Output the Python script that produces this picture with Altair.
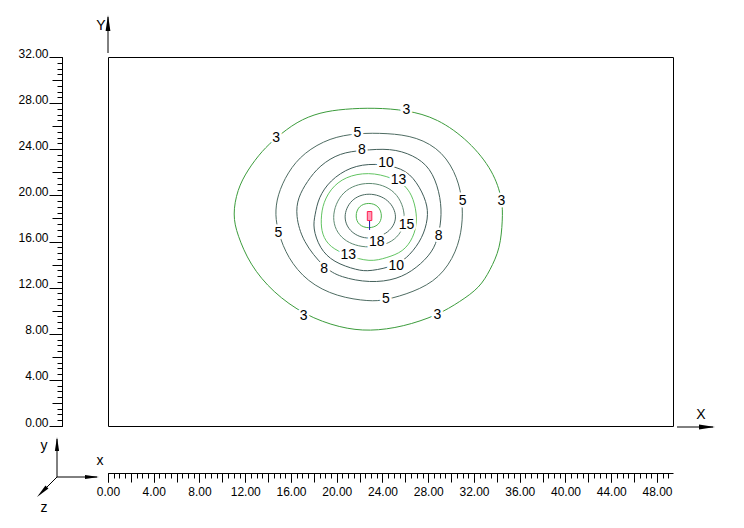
import altair as alt
import pandas as pd

# ---------------- data ----------------
levels = ["3", "5", "8", "10", "13", "15", "18", "20"]
level_colors = ["#3c9c3c", "#4e6c62", "#43605a", "#3f5c58", "#62c462", "#5f8a72", "#4a6a60", "#4cb44c"]

c3_x = [10.9, 11.3, 12.2, 13.5, 14.7, 16.5, 18.5, 20.7, 23.3, 26.1, 28.8, 31.6, 33.7, 34.5, 34.5, 34.3, 33.4, 32.5, 30.8, 28.8, 25.8, 22.9, 20.3, 17.2, 14.4, 12.4, 11.3]
c3_y = [18.3, 20.5, 22.2, 23.9, 25.0, 26.4, 27.2, 27.5, 27.6, 27.4, 26.7, 24.7, 22.1, 19.6, 17.9, 15.4, 13.5, 12.0, 10.8, 9.6, 8.6, 8.2, 8.5, 9.6, 11.6, 14.0, 16.6]
c5_x = [14.6, 14.8, 15.7, 17.1, 19.4, 21.8, 24.4, 27.0, 29.3, 30.6, 31.0, 31.0, 30.5, 29.0, 26.7, 24.2, 22.9, 20.0, 17.4, 15.7, 14.9]
c5_y = [18.3, 20.0, 22.0, 23.7, 25.0, 25.4, 25.4, 25.1, 23.8, 21.5, 19.4, 17.4, 15.1, 12.8, 11.6, 10.9, 10.8, 11.2, 12.5, 14.6, 16.7]
c8_x = [16.4, 16.6, 17.4, 18.5, 20.3, 22.2, 24.7, 26.7, 28.2, 29.0, 29.2, 28.9, 28.4, 27.0, 25.3, 22.9, 20.3, 18.9, 17.0]
c8_y = [18.3, 19.8, 21.2, 22.6, 23.7, 23.9, 24.1, 23.5, 22.4, 20.3, 18.3, 16.5, 15.1, 13.7, 12.7, 12.4, 12.9, 13.7, 16.0]
c10_x = [18.1, 18.4, 19.4, 21.2, 23.3, 25.8, 27.0, 27.9, 28.0, 27.5, 26.4, 25.2, 22.9, 21.8, 19.7, 18.5, 17.9]
c10_y = [18.3, 19.8, 21.3, 22.5, 22.8, 22.4, 21.2, 19.4, 18.0, 16.3, 14.8, 13.9, 13.4, 13.5, 14.2, 15.4, 17.2]
c13_x = [18.6, 18.8, 19.7, 21.2, 23.3, 25.4, 26.1, 26.7, 27.1, 26.7, 25.8, 24.4, 22.9, 20.9, 19.4, 18.7]
c13_y = [17.9, 19.4, 20.9, 21.8, 22.0, 21.3, 20.7, 19.8, 17.9, 16.3, 15.1, 14.6, 14.2, 14.8, 15.5, 16.6]
c15_x = [19.4, 20.4, 22.8, 25.3, 26.2, 25.3, 22.8, 20.4]
c15_y = [18.0, 20.5, 21.3, 20.5, 18.0, 16.0, 15.3, 16.0]
c18_x = [20.5, 21.2, 22.8, 24.6, 25.4, 24.6, 22.8, 21.2]
c18_y = [18.1, 19.7, 20.3, 19.7, 18.1, 16.7, 16.1, 16.7]
c20_x = [21.6, 21.9, 22.8, 23.7, 24.0, 23.7, 22.8, 21.9]
c20_y = [18.2, 19.1, 19.4, 19.1, 18.2, 17.4, 17.1, 17.4]

label_text = ["3", "3", "3", "3", "3", "5", "5", "5", "5", "8", "8", "8", "10", "10", "13", "13", "15", "18"]
label_x = [26.1, 14.7, 34.4, 17.1, 28.8, 21.8, 31.0, 14.9, 24.3, 22.2, 28.9, 18.9, 24.3, 25.2, 25.4, 21.0, 26.1, 23.5]
label_y = [27.4, 25.0, 19.5, 9.5, 9.6, 25.4, 19.5, 16.7, 11.0, 23.9, 16.5, 13.6, 22.8, 13.9, 21.3, 14.8, 17.4, 16.0]

well_x = [22.87]
well_y = [18.21]
well_y2 = [17.0]

x_major = [0, 4, 8, 12, 16, 20, 24, 28, 32, 36, 40, 44, 48]
y_major = [0, 4, 8, 12, 16, 20, 24, 28, 32]
x_mid = [v * 2 for v in range(25)]
y_mid = [v * 2 for v in range(17)]
x_minor = [v * 0.5 for v in range(99)]
y_minor = [v * 0.5 for v in range(65)]

X_MAX = 49.4
Y_MAX = 32

# ---------------- tables ----------------
series = {
    "3": (c3_x, c3_y), "5": (c5_x, c5_y), "8": (c8_x, c8_y), "10": (c10_x, c10_y),
    "13": (c13_x, c13_y), "15": (c15_x, c15_y), "18": (c18_x, c18_y), "20": (c20_x, c20_y),
}
rows = []
for lev, (xs_, ys_) in series.items():
    for i, (a, b) in enumerate(zip(xs_, ys_)):
        rows.append({"level": lev, "x": a, "y": b, "i": i})
df = pd.DataFrame(rows)
labels_df = pd.DataFrame({"t": label_text, "x": label_x, "y": label_y})
well_df = pd.DataFrame({"x": well_x, "y": well_y, "y2": well_y2})
dummy = pd.DataFrame({"x": [0.0], "y": [0.0]})

xs = alt.Scale(domain=[0, X_MAX], nice=False, zero=False)
ys = alt.Scale(domain=[0, Y_MAX], nice=False, zero=False)
FONT = "Liberation Sans"

lines = alt.Chart(df).mark_line(interpolate="basis-closed", strokeWidth=1).encode(
    x=alt.X("x:Q", scale=xs, axis=None),
    y=alt.Y("y:Q", scale=ys, axis=None),
    color=alt.Color("level:N", scale=alt.Scale(domain=levels, range=level_colors), legend=None),
    detail="level:N",
    order="i:Q",
)

halo = alt.Chart(labels_df).mark_text(font=FONT, fontSize=14, fill="white", stroke="white", strokeWidth=5).encode(
    x=alt.X("x:Q", scale=xs, axis=None), y=alt.Y("y:Q", scale=ys, axis=None), text="t:N")
texts = alt.Chart(labels_df).mark_text(font=FONT, fontSize=14, color="black").encode(
    x=alt.X("x:Q", scale=xs, axis=None), y=alt.Y("y:Q", scale=ys, axis=None), text="t:N")

well_line = alt.Chart(well_df).mark_rule(color="#1a1aa8", strokeWidth=1).encode(
    x=alt.X("x:Q", scale=xs, axis=None), y=alt.Y("y:Q", scale=ys, axis=None), y2="y2:Q")
well_box = alt.Chart(well_df).mark_point(
    shape="M-0.5,-1H0.5V1H-0.5Z", size=81, filled=True, fill="#ff9cb8", stroke="#ff2050",
    strokeWidth=1, opacity=1).encode(
    x=alt.X("x:Q", scale=xs, axis=None), y=alt.Y("y:Q", scale=ys, axis=None))


def ruler(xv, yv, xtick, ytick, labels):
    common = dict(domain=False, grid=False, title=None, ticks=True, tickColor="black", tickWidth=1)
    if labels:
        ax_x = alt.Axis(orient="bottom", values=xv, format=".2f", tickSize=xtick, offset=47,
                        labelFont=FONT, labelFontSize=12, labelColor="black", labelPadding=4,
                        labelFlush=False, labelOverlap=False, domain=True, domainColor="black",
                        grid=False, title=None, tickColor="black")
        ax_y = alt.Axis(orient="left", values=yv, format=".2f", tickSize=ytick, offset=46,
                        labelFont=FONT, labelFontSize=12, labelColor="black", labelPadding=1,
                        labelBaseline="alphabetic", labelAlign="right",
                        labelFlush=False, labelOverlap=False, domain=True, domainColor="black",
                        grid=False, title=None, tickColor="black")
    else:
        ax_x = alt.Axis(orient="bottom", values=xv, tickSize=xtick, offset=47, labels=False, **common)
        ax_y = alt.Axis(orient="left", values=yv, tickSize=ytick, offset=46, labels=False, **common)
    return alt.Chart(dummy).mark_point(opacity=0).encode(
        x=alt.X("x:Q", scale=xs, axis=ax_x), y=alt.Y("y:Q", scale=ys, axis=ax_y))


r_major = ruler(x_major, y_major, 9, 13, True)
r_mid = ruler(x_mid, y_mid, 9, 10, False)
r_minor = ruler(x_minor, y_minor, 5, 5, False)

# decorations (pixel positions relative to the plot area)
one = pd.DataFrame({"a": [0]})


def seg(x1, y1, x2, y2):
    return alt.Chart(one).mark_rule(color="black", strokeWidth=1).encode(
        x=alt.value(x1), y=alt.value(y1), x2=alt.value(x2), y2=alt.value(y2))


def head(cx, cy, ang, size):
    return alt.Chart(one).mark_point(shape="M0,-1L0.3,1L-0.3,1Z", filled=True, color="black",
                                     opacity=1, size=size, angle=ang).encode(
        x=alt.value(cx), y=alt.value(cy))


def label(t, x, y, size):
    return alt.Chart(one).mark_text(text=t, font=FONT, fontSize=size, color="black").encode(
        x=alt.value(x), y=alt.value(y))


deco = [
    seg(0, -4, 0, -40), head(0, -34, 0, 256), label("Y", -7, -31, 14),
    seg(569, 370, 605, 370), head(599, 370, 90, 256), label("X", 593, 358, 14),
    seg(-51, 420, -51, 382), head(-51, 387, 0, 196), label("y", -64, 389, 14),
    seg(-51, 420, -11, 420), head(-16, 420, 90, 196), label("x", -8, 404, 14),
    seg(-51, 420, -69, 438), head(-66, 435, 225, 196), label("z", -64, 451, 14),
]

chart = alt.layer(lines, halo, texts, well_line, well_box, r_minor, r_mid, r_major, *deco).resolve_axis(
    x="independent", y="independent"
).properties(
    width=565, height=369,
    padding={"left": 100, "top": 49, "right": 63, "bottom": 94},
    autosize=alt.AutoSizeParams(type="none"),
    background="white",
).configure_view(stroke="black", strokeWidth=1)

chart.save("out.html", embed_options={"renderer": "svg", "actions": False})
